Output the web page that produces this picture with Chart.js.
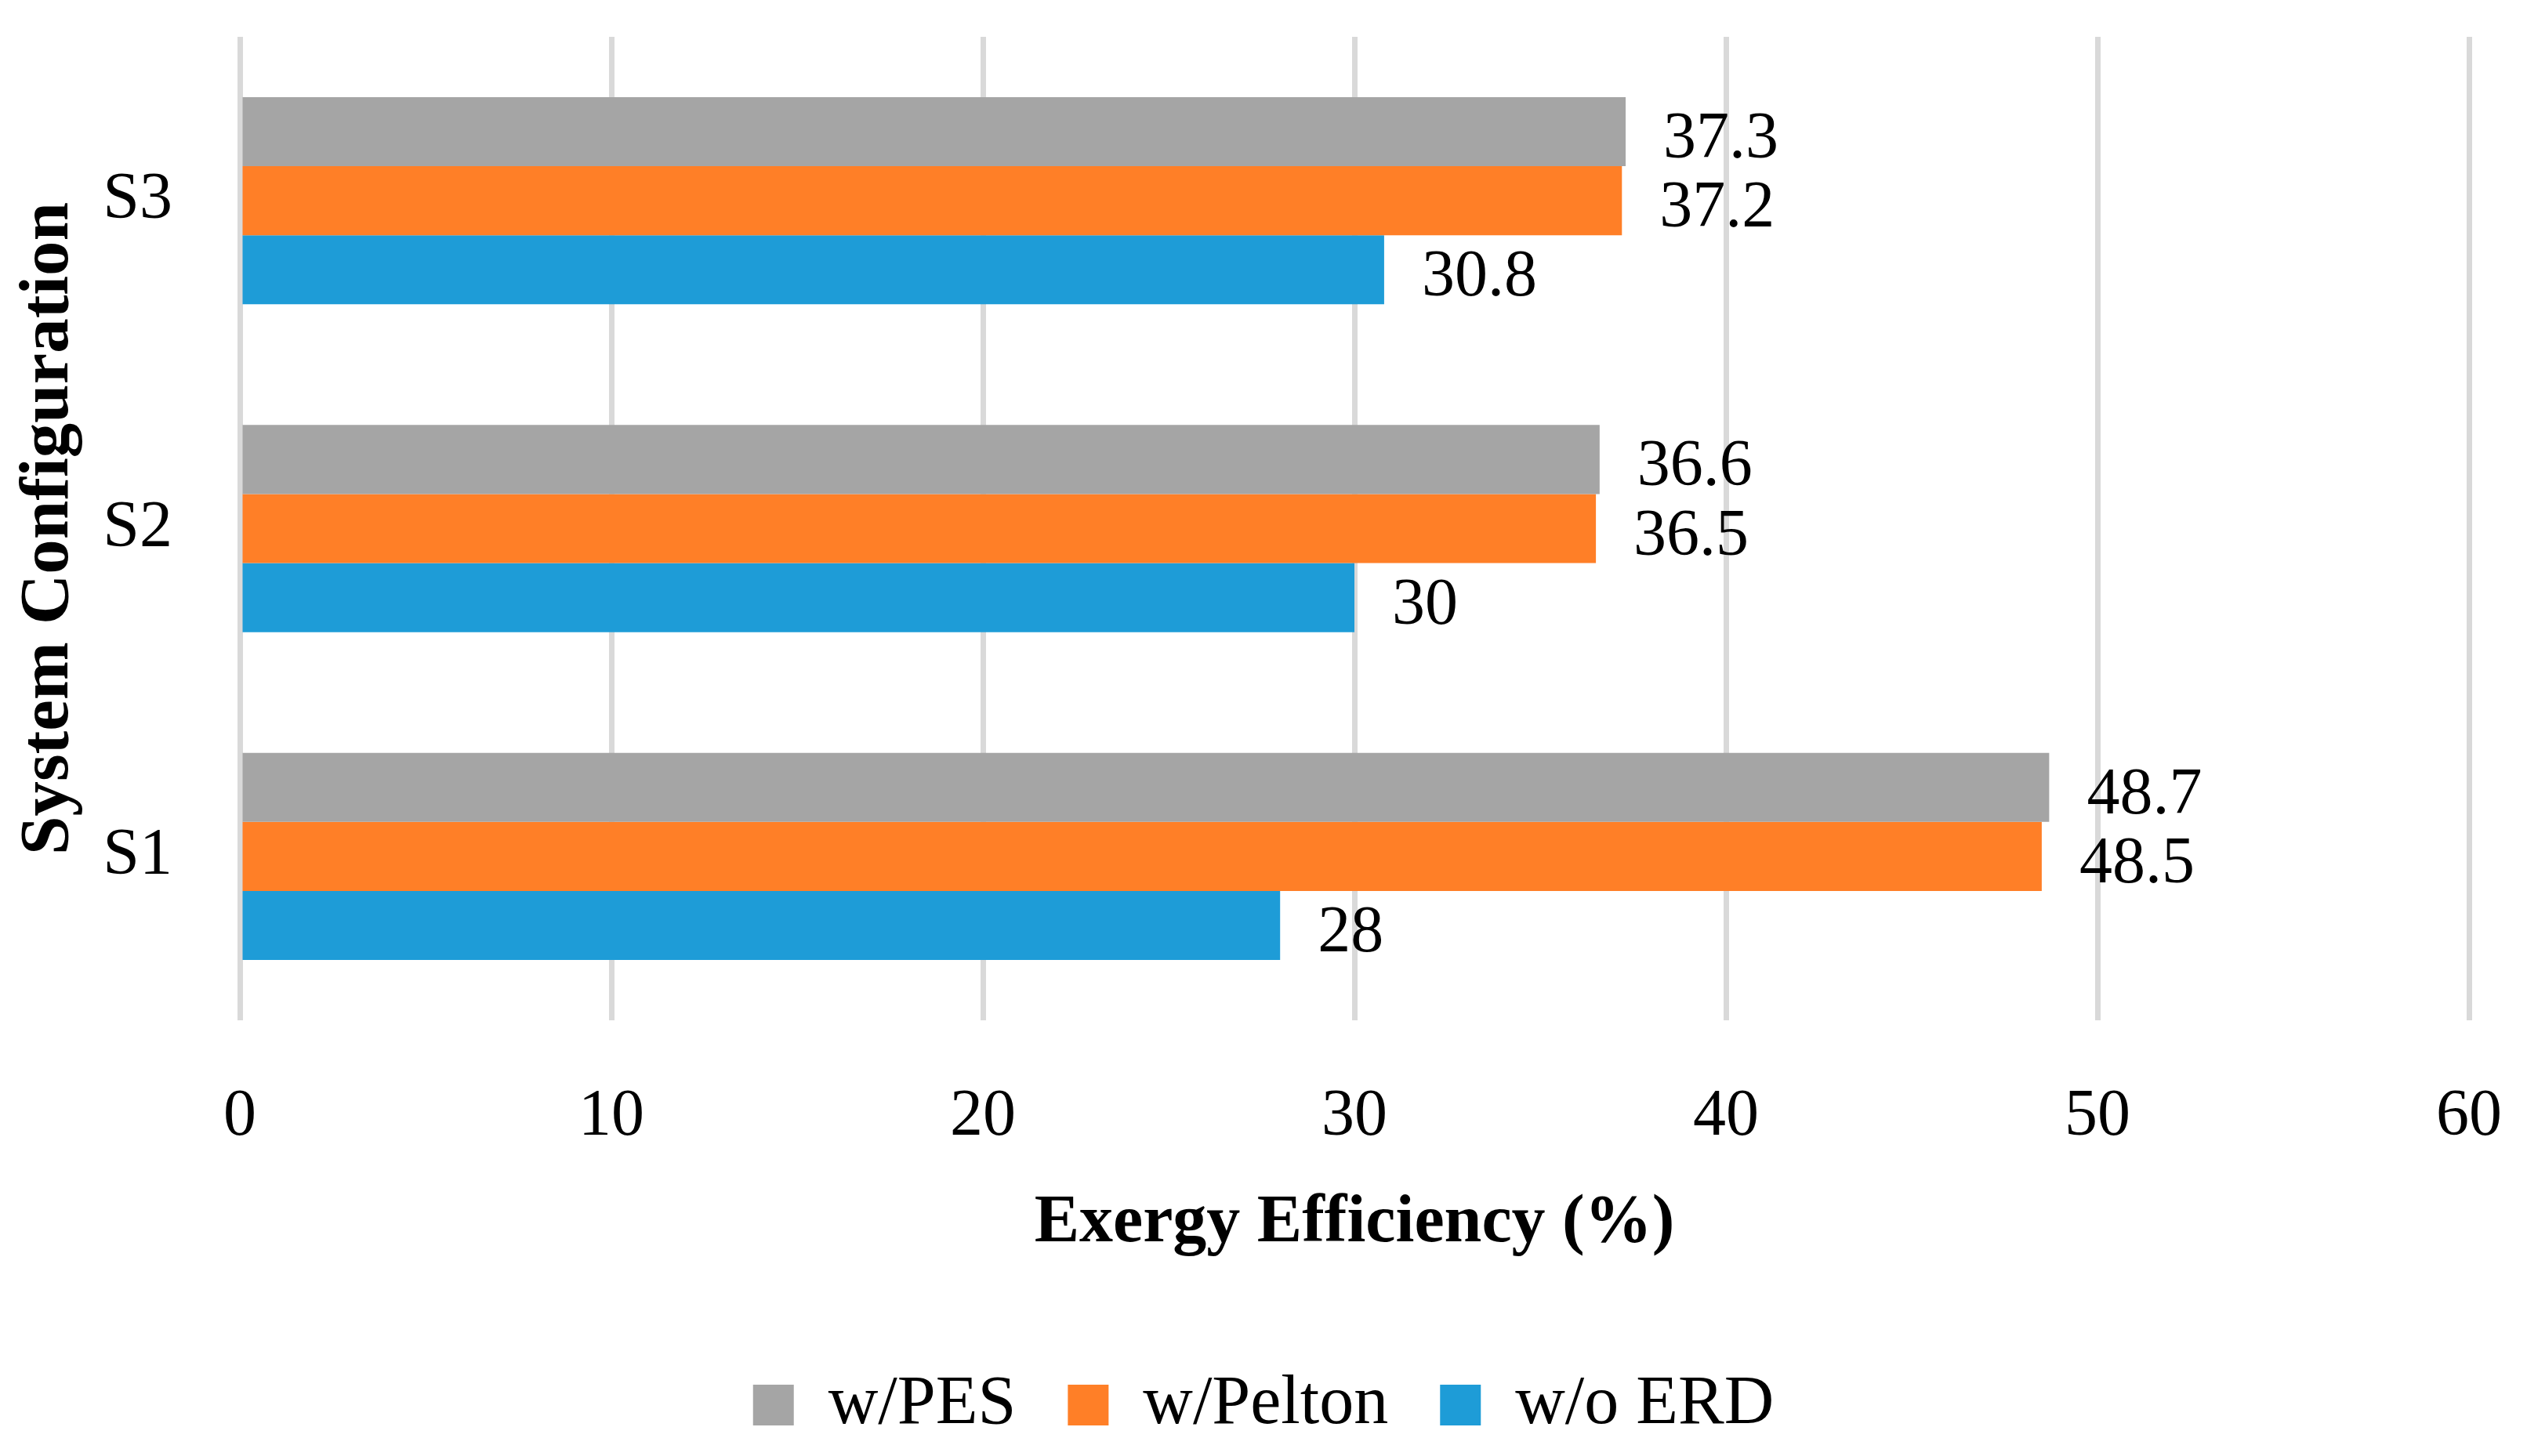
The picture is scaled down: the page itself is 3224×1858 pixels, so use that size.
<!DOCTYPE html>
<html>
<head>
<meta charset="utf-8">
<script src="https://cdn.jsdelivr.net/npm/chart.js@4"></script>
<style>
  html, body { margin: 0; padding: 0; background: #ffffff; overflow: hidden; }
  canvas { display: block; }
</style>
</head>
<body>
<canvas id="c" width="3224" height="1858"></canvas>
<script>
// ---- data ----
const categories = ['S1', 'S2', 'S3'];
const seriesNames = ['w/PES', 'w/Pelton', 'w/o ERD'];
const pesValues = [48.7, 36.6, 37.3];
const peltonValues = [48.5, 36.5, 37.2];
const noErdValues = [28, 30, 30.8];
const xTicks = [0, 10, 20, 30, 40, 50, 60];
const xTitle = 'Exergy Efficiency (%)';
const yTitle = 'System Configuration';

const FONT = "'Liberation Serif', 'Times New Roman', serif";

const valueLabels = {
  id: 'valueLabels',
  afterDatasetsDraw(chart) {
    const ctx = chart.ctx;
    ctx.save();
    ctx.font = '84px ' + FONT;
    ctx.fillStyle = '#000000';
    ctx.textAlign = 'left';
    ctx.textBaseline = 'middle';
    chart.data.datasets.forEach((ds, di) => {
      const meta = chart.getDatasetMeta(di);
      meta.data.forEach((bar, i) => {
        ctx.fillText(String(ds.data[i]), bar.x + 48, bar.y + 11);
      });
    });
    ctx.restore();
  }
};

// center the legend on the whole canvas width (not the padded area)
const legendFullWidth = {
  id: 'legendFullWidth',
  afterLayout(chart) {
    if (chart.legend) {
      chart.legend.left = 0;
      chart.legend.right = chart.width;
    }
  }
};

function zeroPadding(scale) {
  scale.paddingTop = 0;
  scale.paddingBottom = 0;
  scale.paddingLeft = 0;
  scale.paddingRight = 0;
}

new Chart(document.getElementById('c'), {
  type: 'bar',
  data: {
    labels: categories,
    datasets: [
      { label: seriesNames[0], data: pesValues, backgroundColor: '#A5A5A5' },
      { label: seriesNames[1], data: peltonValues, backgroundColor: '#FF7F27' },
      { label: seriesNames[2], data: noErdValues, backgroundColor: '#1E9CD7' }
    ]
  },
  options: {
    indexAxis: 'y',
    responsive: false,
    animation: false,
    devicePixelRatio: 1,
    layout: { padding: { left: 0, right: 74, top: 47, bottom: 11 } },
    datasets: { bar: { categoryPercentage: 0.632, barPercentage: 1.0, borderWidth: 0 } },
    plugins: {
      tooltip: { enabled: false },
      legend: {
        position: 'bottom',
        labels: {
          boxWidth: 52,
          boxHeight: 52,
          padding: 66,
          color: '#000000',
          font: { family: FONT, size: 88 }
        }
      }
    },
    scales: {
      x: {
        type: 'linear',
        min: xTicks[0],
        max: xTicks[xTicks.length - 1],
        afterBuildTicks(scale) { scale.ticks = xTicks.map(v => ({ value: v })); },
        afterFit(scale) { scale.height = 381; zeroPadding(scale); },
        grid: { color: '#D9D9D9', lineWidth: 7, drawTicks: false },
        border: { display: false },
        ticks: { padding: 74, color: '#000000', font: { family: FONT, size: 84 } },
        title: {
          display: true,
          text: xTitle,
          color: '#000000',
          font: { family: FONT, size: 86, weight: 'bold' },
          padding: { top: 0, bottom: 70 }
        }
      },
      y: {
        type: 'category',
        reverse: true,
        afterFit(scale) { scale.width = 306; zeroPadding(scale); },
        grid: { display: false, drawTicks: false },
        border: { display: false },
        ticks: { padding: 86, color: '#000000', font: { family: FONT, size: 84 } },
        title: {
          display: true,
          text: yTitle,
          color: '#000000',
          font: { family: FONT, size: 89, weight: 'bold' },
          padding: { top: 10, bottom: 0 }
        }
      }
    }
  },
  plugins: [valueLabels, legendFullWidth]
});
</script>
</body>
</html>
